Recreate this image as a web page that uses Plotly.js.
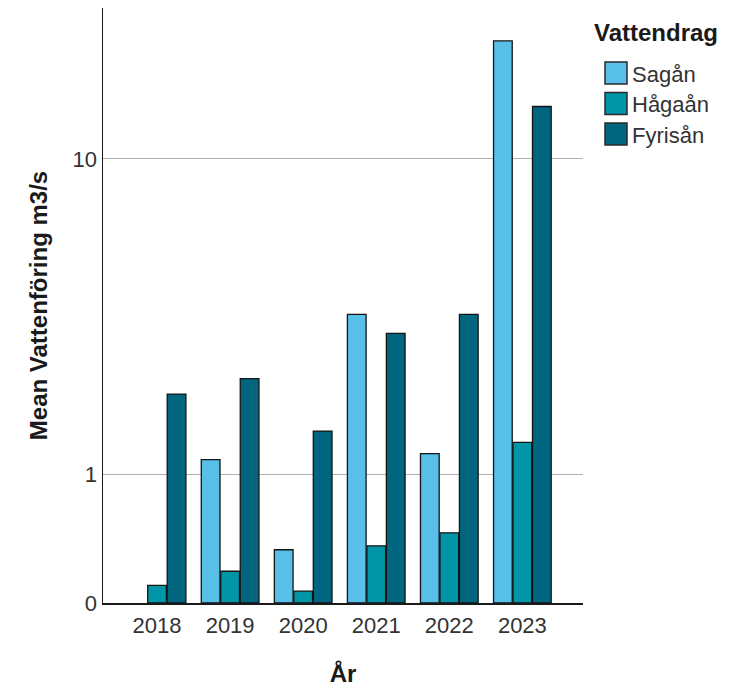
<!DOCTYPE html>
<html>
<head>
<meta charset="utf-8">
<script src="https://cdn.plot.ly/plotly-3.0.1.min.js"></script>
<style>
  html, body { margin: 0; padding: 0; background: #ffffff; }
  #chart { width: 740px; height: 691px; }
</style>
</head>
<body>
<div id="chart"></div>
<script>
// ---- data ----
const years = ['2018', '2019', '2020', '2021', '2022', '2023'];
const seriesNames = ['Sagån', 'Hågaån', 'Fyrisån'];
const saganValues   = [null, 1.17, 0.333, 3.75, 1.24, 19.8];
const hagaanValues  = [0.10, 0.187, 0.066, 0.362, 0.461, 1.38];
const fyrisanValues = [2.09, 2.36, 1.53, 3.29, 3.75, 13.6];
const yTickValues = [0, 1, 10];
const yTickLabels = ['0', '1', '10'];
const legendTitle = 'Vattendrag';
const xTitle = 'År';
const yTitle = 'Mean Vattenföring m3/s';

// ---- styles ----
const colors = ['#58bfe8', '#0096a8', '#00657f'];
const FONT = 'Liberation Sans, Arial, sans-serif';

// SPSS "safe log" scale: sign(v)*log10(|v|+1)
function safeLog(v) {
  if (v === null || v === undefined) return null;
  return Math.sign(v) * Math.log10(Math.abs(v) + 1);
}

const allSeries = [saganValues, hagaanValues, fyrisanValues];
const traces = allSeries.map((vals, i) => ({
  type: 'bar',
  name: seriesNames[i],
  x: years,
  y: vals.map(safeLog),
  customdata: vals,
  hovertemplate: '%{x}: %{customdata}<extra>' + seriesNames[i] + '</extra>',
  marker: { color: colors[i], line: { color: '#141414', width: 1.3 } },
  showlegend: false
}));

// plot area geometry in pixels
const W = 740, H = 691;
const M = { l: 103, r: 157, t: 8, b: 88 };
const pw = W - M.l - M.r, ph = H - M.t - M.b;
const px2x = p => (p - M.l) / pw;
const py2y = p => (H - M.b - p) / ph;

// custom legend (large swatches like the original)
const shapes = [];
const annotations = [{
  xref: 'paper', yref: 'paper',
  x: px2x(592), y: py2y(33), xanchor: 'left', yanchor: 'middle',
  text: '<b>' + legendTitle + '</b>', showarrow: false,
  font: { family: FONT, size: 24, color: '#1a1a1a' }
}];
seriesNames.forEach((nm, i) => {
  const cy = 73 + i * 30.5;
  shapes.push({
    type: 'rect', xref: 'paper', yref: 'paper',
    x0: px2x(605), x1: px2x(627), y0: py2y(cy - 11), y1: py2y(cy + 11),
    fillcolor: colors[i], line: { color: '#2a2a2a', width: 1.5 }
  });
  annotations.push({
    xref: 'paper', yref: 'paper',
    x: px2x(630), y: py2y(cy + 1), xanchor: 'left', yanchor: 'middle',
    text: nm, showarrow: false,
    font: { family: FONT, size: 22, color: '#333333' }
  });
});

const layout = {
  width: W, height: H,
  margin: M,
  paper_bgcolor: '#ffffff', plot_bgcolor: '#ffffff',
  font: { family: FONT, size: 22, color: '#333333' },
  barmode: 'group',
  bargap: 0.2,
  bargroupgap: 0.04,
  showlegend: false,
  xaxis: {
    type: 'category',
    range: [-0.74, 5.83],
    showline: true, linecolor: '#1a1a1a', linewidth: 1.5,
    showgrid: false, zeroline: false,
    ticks: '', ticklabelstandoff: 2,
    tickfont: { family: FONT, size: 22, color: '#333333' },
    title: { text: '<b>' + xTitle + '</b>', standoff: 28,
             font: { family: FONT, size: 24, color: '#1a1a1a' } },
    automargin: false
  },
  yaxis: {
    range: [0, safeLog(23.85)],
    tickmode: 'array',
    tickvals: yTickValues.map(safeLog),
    ticktext: yTickLabels,
    showline: true, linecolor: '#1a1a1a', linewidth: 1.5,
    showgrid: true, gridcolor: '#b0b0b0', gridwidth: 1,
    zeroline: false,
    ticks: '', ticklabelstandoff: 0,
    tickfont: { family: FONT, size: 22, color: '#333333' },
    title: { text: '<b>' + yTitle + '</b>', standoff: 18,
             font: { family: FONT, size: 24, color: '#1a1a1a' } },
    automargin: false
  },
  shapes: shapes,
  annotations: annotations
};

Plotly.newPlot('chart', traces, layout, { displayModeBar: false, staticPlot: true });
</script>
</body>
</html>
